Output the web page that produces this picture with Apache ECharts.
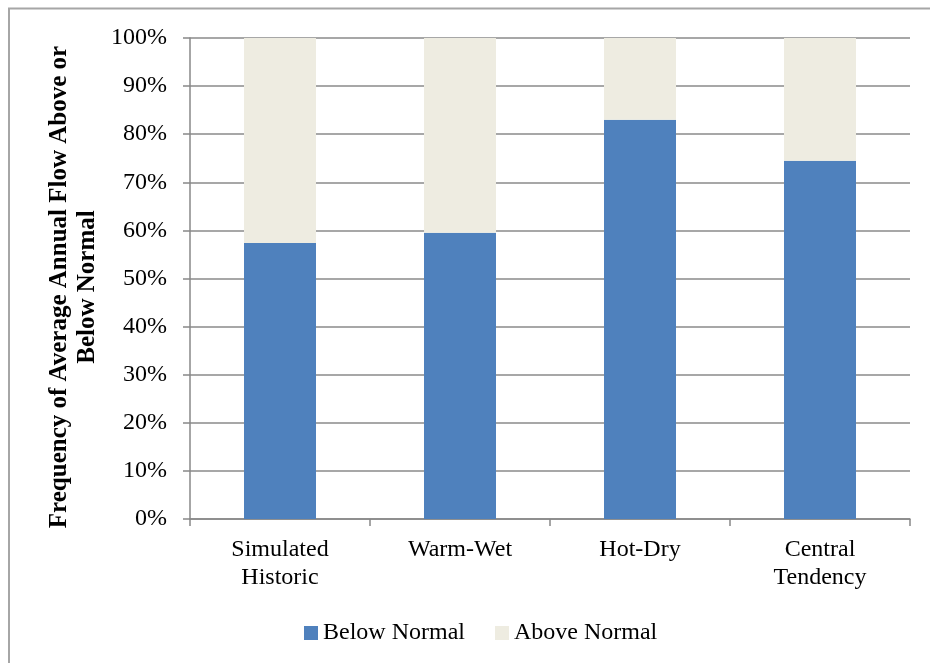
<!DOCTYPE html>
<html>
<head>
<meta charset="utf-8">
<script src="https://cdn.jsdelivr.net/npm/echarts@6/dist/echarts.min.js"></script>
<style>
html,body{margin:0;padding:0;background:#fff;}
#chart{width:930px;height:663px;}
</style>
</head>
<body>
<div id="chart"></div>
<script>
const categories = ['Simulated\nHistoric', 'Warm-Wet', 'Hot-Dry', 'Central\nTendency'];
const belowNormal = [57.4, 59.5, 83.0, 74.5];
const aboveNormal = [42.6, 40.5, 17.0, 25.5];
const seriesNames = ['Below Normal', 'Above Normal'];
const yTitle = 'Frequency of Average Annual Flow Above or\nBelow Normal';

const FONT = '"Liberation Serif", "DejaVu Serif", serif';
const chart = echarts.init(document.getElementById('chart'), null, {renderer: 'canvas'});
chart.setOption({
  animation: false,
  backgroundColor: '#ffffff',
  textStyle: {fontFamily: FONT},
  grid: {left: 190, right: 20, top: 38, bottom: 144, containLabel: false},
  legend: {
    left: 299, top: 616,
    icon: 'rect', itemWidth: 14, itemHeight: 14, itemGap: 30,
    textStyle: {fontFamily: FONT, fontSize: 24, color: '#000', padding: [0, 0, 0, 0]},
    data: seriesNames
  },
  xAxis: {
    type: 'category',
    data: categories,
    axisLine: {lineStyle: {color: '#888888', width: 1.5}},
    axisTick: {show: true, length: 7, lineStyle: {color: '#888888', width: 1.5}},
    axisLabel: {fontFamily: FONT, fontSize: 24, color: '#000', margin: 17, lineHeight: 28}
  },
  yAxis: {
    type: 'value',
    min: 0, max: 100, interval: 10,
    axisLine: {show: true, lineStyle: {color: '#888888', width: 1.5}},
    axisTick: {show: true, length: 7, lineStyle: {color: '#888888', width: 1.5}},
    splitLine: {show: true, lineStyle: {color: '#8a8a8a', width: 1.5}},
    axisLabel: {fontFamily: FONT, fontSize: 24, color: '#000', margin: 23, formatter: v => v + '%'}
  },
  series: [
    {name: seriesNames[0], type: 'bar', stack: 'total', data: belowNormal, barWidth: '40%',
     itemStyle: {color: '#4F81BD'}},
    {name: seriesNames[1], type: 'bar', stack: 'total', data: aboveNormal, barWidth: '40%',
     itemStyle: {color: '#EEECE1'}}
  ],
  graphic: [
    {type: 'rect', shape: {x: 9, y: 8.5, width: 1200, height: 1200},
     style: {fill: 'none', stroke: '#a6a6a6', lineWidth: 2}, silent: true},
    {type: 'text', x: 74, y: 287, rotation: Math.PI / 2,
     style: {text: yTitle, font: 'bold 25px ' + FONT, fill: '#000', align: 'center', verticalAlign: 'middle', lineHeight: 28}}
  ]
});
</script>
</body>
</html>
